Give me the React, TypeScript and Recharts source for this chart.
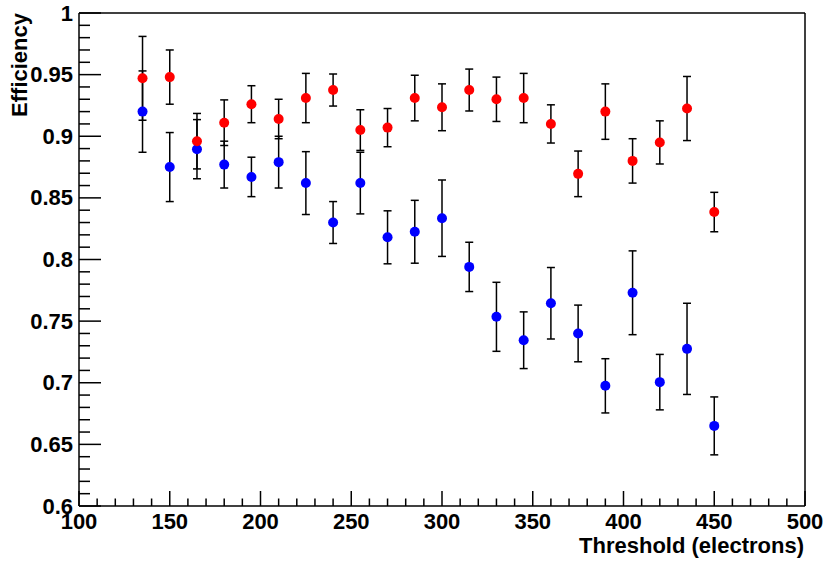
import { ScatterChart, Scatter, XAxis, YAxis, ErrorBar, ReferenceLine } from 'recharts';

// threshold scan points (electrons)
const thresholds = [135, 150, 165, 180, 195, 210, 225, 240, 255, 270, 285, 300, 315, 330, 345, 360, 375, 390, 405, 420, 435, 450];

const redEff = [0.947, 0.948, 0.896, 0.911, 0.926, 0.914, 0.931, 0.9375, 0.905, 0.907, 0.931, 0.9235, 0.9375, 0.93, 0.931, 0.91, 0.8695, 0.92, 0.88, 0.895, 0.9225, 0.8385];
const redErr = [0.034, 0.022, 0.0225, 0.0185, 0.015, 0.016, 0.02, 0.013, 0.0165, 0.0155, 0.0185, 0.019, 0.017, 0.018, 0.02, 0.0155, 0.0185, 0.0225, 0.018, 0.0175, 0.026, 0.016];

const blueEff = [0.92, 0.875, 0.8895, 0.877, 0.867, 0.879, 0.862, 0.83, 0.862, 0.818, 0.8225, 0.8335, 0.794, 0.7535, 0.7345, 0.7645, 0.74, 0.6975, 0.773, 0.7005, 0.7275, 0.665];
const blueErr = [0.033, 0.028, 0.024, 0.019, 0.016, 0.021, 0.0255, 0.017, 0.025, 0.0215, 0.0255, 0.031, 0.02, 0.028, 0.023, 0.029, 0.023, 0.022, 0.034, 0.0225, 0.037, 0.0235];

const xMajorTicks = [100, 150, 200, 250, 300, 350, 400, 450, 500];
const yMajorTicks = [0.6, 0.65, 0.7, 0.75, 0.8, 0.85, 0.9, 0.95, 1];

// 4 minor ticks between each pair of major ticks
const withMinors = (majors: number[]) => {
  const out: number[] = [];
  majors.forEach((m, i) => {
    out.push(m);
    if (i < majors.length - 1) {
      const step = (majors[i + 1] - m) / 5;
      for (let k = 1; k < 5; k++) out.push(Math.round((m + k * step) * 1000) / 1000);
    }
  });
  return out;
};
const xTicks = withMinors(xMajorTicks);
const yTicks = withMinors(yMajorTicks);

const redData = thresholds.map((t, i) => ({ x: t, y: redEff[i], err: redErr[i] }));
const blueData = thresholds.map((t, i) => ({ x: t, y: blueEff[i], err: blueErr[i] }));

const FONT = '"Liberation Sans", Arial, Helvetica, sans-serif';
const isMajor = (list: number[], v: number) => list.some(m => Math.abs(m - v) < 1e-6);

const XTick = (props: any) => {
  const { x, y, payload } = props;
  const major = isMajor(xMajorTicks, payload.value);
  return (
    <g>
      <line x1={x} y1={y} x2={x} y2={y - (major ? 15 : 7.5)} stroke="#000" strokeWidth={1.5} />
      {major && (
        <text x={x} y={y + 23} textAnchor="middle" fontFamily={FONT} fontWeight="bold" fontSize={22} fill="#000">
          {payload.value}
        </text>
      )}
    </g>
  );
};

const YTick = (props: any) => {
  const { x, y, payload } = props;
  const major = isMajor(yMajorTicks, payload.value);
  return (
    <g>
      <line x1={x} y1={y} x2={x + (major ? 22 : 11)} y2={y} stroke="#000" strokeWidth={1.5} />
      {major && (
        <text x={x - 6} y={y + 7.5} textAnchor="end" fontFamily={FONT} fontWeight="bold" fontSize={22} fill="#000">
          {String(Number(payload.value.toFixed(2)))}
        </text>
      )}
    </g>
  );
};

const Dot = (color: string) => (props: any) => <circle cx={props.cx} cy={props.cy} r={5} fill={color} />;

const App = () => {
  return (
    <div style={{ position: 'absolute', left: 0, top: 0, width: 825, height: 562, background: '#fff' }}>
      <ScatterChart width={825} height={562} margin={{ top: 13, right: 20, left: 0, bottom: 0 }}>
        <XAxis
          dataKey="x"
          type="number"
          domain={[100, 500]}
          ticks={xTicks}
          interval={0}
          tickSize={0}
          tickMargin={0}
          tickLine={false}
          tick={XTick}
          height={56}
          axisLine={{ stroke: '#000', strokeWidth: 1.5 }}
          label={{
            content: () => (
              <text x={804} y={553} textAnchor="end" fontFamily={FONT} fontWeight="bold" fontSize={22} fill="#000">
                Threshold (electrons)
              </text>
            ),
          }}
        />
        <YAxis
          dataKey="y"
          type="number"
          domain={[0.6, 1]}
          ticks={yTicks}
          interval={0}
          tickSize={0}
          tickMargin={0}
          tickLine={false}
          tick={YTick}
          width={79}
          axisLine={{ stroke: '#000', strokeWidth: 1.5 }}
          label={{
            content: () => (
              <text
                x={27}
                y={13}
                transform="rotate(-90 27 13)"
                textAnchor="end"
                fontFamily={FONT}
                fontWeight="bold"
                fontSize={22}
                fill="#000"
              >
                Efficiency
              </text>
            ),
          }}
        />
        <ReferenceLine y={1} stroke="#000" strokeWidth={1.5} />
        <ReferenceLine x={500} stroke="#000" strokeWidth={1.5} />
        <Scatter data={blueData} fill="#0000ff" shape={Dot('#0000ff')} isAnimationActive={false}>
          <ErrorBar dataKey="err" direction="y" width={4} stroke="#000" strokeWidth={1.5} isAnimationActive={false} />
        </Scatter>
        <Scatter data={redData} fill="#ff0000" shape={Dot('#ff0000')} isAnimationActive={false}>
          <ErrorBar dataKey="err" direction="y" width={4} stroke="#000" strokeWidth={1.5} isAnimationActive={false} />
        </Scatter>
      </ScatterChart>
    </div>
  );
};

export default App;
